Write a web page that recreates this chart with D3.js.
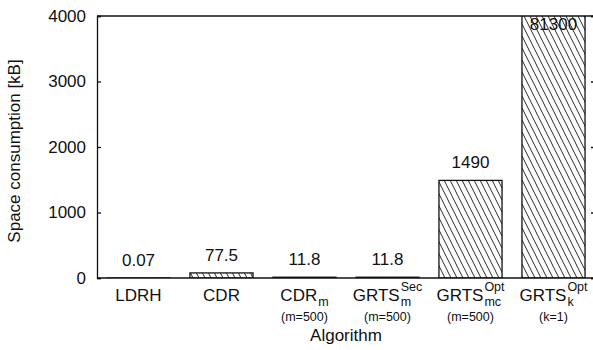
<!DOCTYPE html>
<html>
<head>
<meta charset="utf-8">
<script src="https://cdn.jsdelivr.net/npm/d3@7"></script>
<style>
  body { margin: 0; background: #fff; }
  text { font-family: "Liberation Sans", Arial, sans-serif; fill: #111; }
</style>
</head>
<body>
<div id="chart"></div>
<script>
// data
const names = ["LDRH", "CDR", "CDR", "GRTS", "GRTS", "GRTS"];
const subs = ["", "", "m", "m", "mc", "k"];
const sups = ["", "", "", "Sec", "Opt", "Opt"];
const params = ["", "", "(m=500)", "(m=500)", "(m=500)", "(k=1)"];
const values = [0.07, 77.5, 11.8, 11.8, 1490, 81300];
const valueLabels = ["0.07", "77.5", "11.8", "11.8", "1490", "81300"];
const yTicks = [0, 1000, 2000, 3000, 4000];

const width = 593, height = 350;
const mLeft = 97, mRight = 595, mTop = 16, mBottom = 278;
const big = 17, small = 12.5;

const svg = d3.select("#chart").append("svg")
    .attr("width", width)
    .attr("height", height);

const idx = d3.range(values.length);
const x = d3.scaleBand().domain(idx).range([mLeft, mRight]).paddingInner(0.24).paddingOuter(0.12);
const y = d3.scaleLinear().domain([0, 4000]).range([mBottom, mTop]);

// hatch pattern
const defs = svg.append("defs");
const pat = defs.append("pattern")
    .attr("id", "hatch")
    .attr("patternUnits", "userSpaceOnUse")
    .attr("width", 6)
    .attr("height", 12);
pat.append("path")
    .attr("d", "M0,0 L6,12 M-6,0 L0,12 M6,0 L12,12")
    .attr("stroke", "#111")
    .attr("stroke-width", 0.9);

defs.append("clipPath").attr("id", "plot")
  .append("rect")
    .attr("x", mLeft).attr("y", mTop)
    .attr("width", mRight - mLeft).attr("height", mBottom - mTop);

// bars
svg.append("g").attr("clip-path", "url(#plot)")
  .selectAll("rect")
  .data(idx)
  .join("rect")
    .attr("x", i => x(i))
    .attr("width", x.bandwidth())
    .attr("y", i => y(Math.min(values[i], 4100)))
    .attr("height", i => y(0) - y(Math.min(values[i], 4100)))
    .attr("fill", "url(#hatch)")
    .attr("stroke", "#111")
    .attr("stroke-width", 1.3);

// value labels
svg.append("g")
  .selectAll("text")
  .data(idx)
  .join("text")
    .attr("x", i => x(i) + x.bandwidth() / 2)
    .attr("y", i => values[i] > 4000 ? y(4000) + 14 : y(values[i]) - 12)
    .attr("text-anchor", "middle")
    .attr("font-size", big)
    .text(i => valueLabels[i]);

// axes frame
const yAxis = d3.axisLeft(y).tickValues(yTicks).tickFormat(d3.format("d")).tickSize(-4).tickPadding(11);
svg.append("g")
    .attr("transform", `translate(${mLeft},0)`)
    .call(yAxis)
    .call(g => g.selectAll("text").attr("font-size", big).attr("font-family", "Liberation Sans, Arial, sans-serif").attr("fill", "#111"))
    .call(g => g.selectAll("line,path").attr("stroke", "#111").attr("stroke-width", 1.3));

const yAxisR = d3.axisRight(y).tickValues(yTicks).tickSize(-4).tickFormat("");
svg.append("g")
    .attr("transform", `translate(${mRight},0)`)
    .call(yAxisR)
    .call(g => g.selectAll("line,path").attr("stroke", "#111").attr("stroke-width", 1.3));

svg.append("line")
    .attr("x1", mLeft).attr("x2", mRight)
    .attr("y1", mTop).attr("y2", mTop)
    .attr("stroke", "#111").attr("stroke-width", 1.3);
svg.append("line")
    .attr("x1", mLeft).attr("x2", mRight)
    .attr("y1", mBottom).attr("y2", mBottom)
    .attr("stroke", "#111").attr("stroke-width", 1.3);

// category labels with sub/superscripts
idx.forEach(i => {
  const cx = x(i) + x.bandwidth() / 2;
  const g = svg.append("g");
  const main = g.append("text")
      .attr("x", 0).attr("y", 301)
      .attr("font-size", big)
      .text(names[i]);
  const w = main.node().getComputedTextLength();
  let extra = 0;
  if (subs[i]) {
    const s = g.append("text")
        .attr("x", w + 1).attr("y", 306)
        .attr("font-size", small)
        .text(subs[i]);
    extra = Math.max(extra, s.node().getComputedTextLength() + 1);
  }
  if (sups[i]) {
    const s = g.append("text")
        .attr("x", w + 1).attr("y", 291)
        .attr("font-size", small)
        .text(sups[i]);
    extra = Math.max(extra, s.node().getComputedTextLength() + 1);
  }
  g.attr("transform", `translate(${cx - (w + extra) / 2},0)`);
  if (params[i]) {
    svg.append("text")
        .attr("x", cx).attr("y", 321)
        .attr("text-anchor", "middle")
        .attr("font-size", small)
        .text(params[i]);
  }
});

// axis titles
svg.append("text")
    .attr("x", (mLeft + mRight) / 2).attr("y", 341)
    .attr("text-anchor", "middle")
    .attr("font-size", big)
    .text("Algorithm");

svg.append("text")
    .attr("transform", `translate(20,151) rotate(-90)`)
    .attr("text-anchor", "middle")
    .attr("font-size", big)
    .text("Space consumption [kB]");
</script>
</body>
</html>
